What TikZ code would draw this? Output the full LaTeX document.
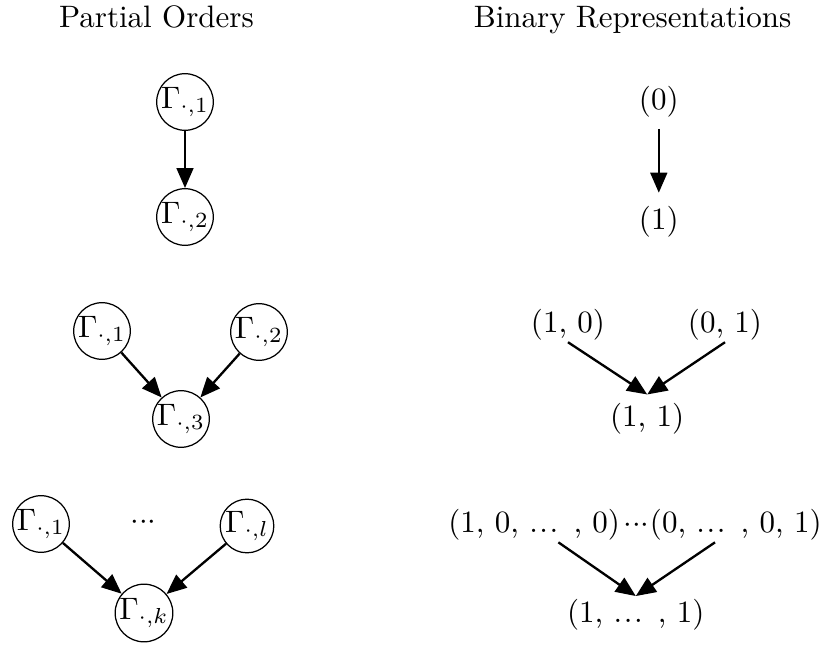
\documentclass[tikz,border=0pt]{standalone}
\usetikzlibrary{arrows.meta}
\newcommand\mydots{.\kern0.5pt.\kern0.5pt.\kern0.5pt}
\newcommand\middots{${\cdot}{\cdot}{\cdot}$}
\tikzset{
  gnode/.style={draw, circle, inner sep=0pt, minimum size=17.3pt, line width=0.4pt},
  tnode/.style={inner sep=0pt, anchor=base},
  edge/.style={-{Triangle[length=6.45pt,width=5.4pt]}, line width=0.75pt},
}
\begin{document}
\begin{tikzpicture}[x=0.3226pt, y=-0.3226pt]
\useasboundingbox (0,0) rectangle (823,645);
% titles
\node[tnode] (t1) at (156.5,27) {Partial Orders};
\node[tnode] (t2) at (632.5,27) {Binary Representations};
% left row 1
\node[gnode] (a1) at (185,102) {$\Gamma_{\cdot,1}$};
\node[gnode] (a2) at (185,217) {$\Gamma_{\cdot,2}$};
\draw[edge] (a1) -- (a2);
% left row 2
\node[gnode] (b1) at (102,331) {$\Gamma_{\cdot,1}$};
\node[gnode] (b2) at (259,332) {$\Gamma_{\cdot,2}$};
\node[gnode] (b3) at (181,419) {$\Gamma_{\cdot,3}$};
\draw[edge] (b1) -- (b3);
\draw[edge] (b2) -- (b3);
% left row 3
\node[gnode] (c1) at (41,524) {$\Gamma_{\cdot,1}$};
\node[tnode] (cd) at (143.5,529.5) {\middots};
\node[gnode] (c2) at (247,526) {$\Gamma_{\cdot,l}$};
\node[gnode] (c3) at (144,613) {$\Gamma_{\cdot,k}$};
\draw[edge] (c1) -- (c3);
\draw[edge] (c2) -- (c3);
% right row 1
\node[tnode] (r0) at (658.8,109) {(0)};
\node[tnode] (r1) at (658.8,229) {(1)};
\draw[edge] ([yshift=-3.7pt]r0.south) -- ([yshift=4.0pt]r1.north);
% right row 2
\node[tnode] (s1) at (568,332) {(1, 0)};
\node[tnode] (s2) at (725,332) {(0, 1)};
\node[tnode] (s3) at (647.2,426.7) {(1, 1)};
\draw[edge] ([yshift=-0.6pt]s1.south) -- ([yshift=2.7pt]s3.north);
\draw[edge] ([yshift=-0.6pt]s2.south) -- ([yshift=2.7pt]s3.north);
% right row 3
\node[tnode] (u1) at (534.2,532.4) {(1, 0, \mydots{} , 0)};
\node[tnode] (ud) at (636.5,532.75) {\middots};
\node[tnode] (u2) at (735.8,532.4) {(0, \mydots{} , 0, 1)};
\node[tnode] (u3) at (635.8,622.7) {(1, \mydots{} , 1)};
\draw[edge] ([xshift=7.8pt,yshift=-0.5pt]u1.south) -- ([yshift=0.9pt]u3.north);
\draw[edge] ([xshift=-6.7pt,yshift=-0.5pt]u2.south) -- ([yshift=0.9pt]u3.north);
\end{tikzpicture}
\end{document}
